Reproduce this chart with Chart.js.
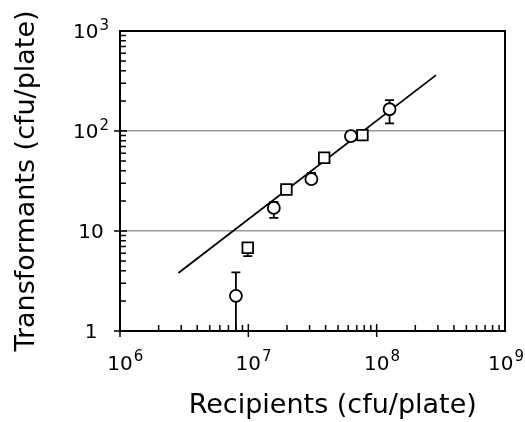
<!DOCTYPE html>
<html>
<head>
<meta charset="utf-8">
<script src="https://cdn.jsdelivr.net/npm/chart.js@4.4.1/dist/chart.umd.min.js"></script>
<style>
  html, body { margin: 0; padding: 0; background: #fff; }
  #wrap { width: 525px; height: 422px; }
</style>
</head>
<body>
<div id="wrap"><canvas id="chart"></canvas></div>
<script>
// open circles, with error bars
const circleX = [8.0e6, 1.58e7, 3.1e7, 6.3e7, 1.26e8];
const circleY = [2.25, 17, 33, 89, 165];
const circleLow = [0.5, 13.5, 33, 89, 119];
const circleHigh = [3.85, 19.5, 38, 89, 204];

// open squares
const squareX = [9.9e6, 1.98e7, 3.9e7, 7.75e7];
const squareY = [6.8, 26, 54, 91];
const squareLow = [5.6, 26, 54, 91];
const squareHigh = [6.8, 26, 54, 91];

// fitted line, end points
const fitX = [2.85e6, 2.9e8];
const fitY = [3.8, 362];

const xTicks = [1e6, 1e7, 1e8, 1e9];
const xTickLabels = [['10', '6'], ['10', '7'], ['10', '8'], ['10', '9']];
const yTicks = [1, 10, 100, 1000];
const yTickLabels = [['1', ''], ['10', ''], ['10', '2'], ['10', '3']];
const gridY = [10, 100];

const FONT = '"DejaVu Sans", sans-serif';

const toPts = (xs, ys) => xs.map((v, i) => ({x: v, y: ys[i]}));

function drawPow(ctx, base, exp, left, baseline, raise) {
  ctx.font = '20px ' + FONT;
  ctx.textAlign = 'left';
  ctx.textBaseline = 'alphabetic';
  ctx.fillText(base, left, baseline);
  const wb = ctx.measureText(base).width;
  if (exp) {
    ctx.font = '15px ' + FONT;
    ctx.fillText(exp, left + wb + 1, baseline - raise);
  }
}

function powWidth(ctx, base, exp) {
  ctx.font = '20px ' + FONT;
  const wb = ctx.measureText(base).width;
  ctx.font = '15px ' + FONT;
  const we = exp ? ctx.measureText(exp).width + 1 : 0;
  return [wb, we];
}

const decor = {
  id: 'decor',
  beforeDatasetsDraw(chart) {
    const {ctx, chartArea: a, scales: {x, y}} = chart;
    ctx.save();
    ctx.beginPath();
    ctx.rect(a.left, a.top, a.right - a.left, a.bottom - a.top);
    ctx.clip();
    ctx.strokeStyle = '#000';
    ctx.lineWidth = 1.8;
    const bars = (xs, lo, hi) => xs.forEach((v, i) => {
      const px = x.getPixelForValue(v);
      const p1 = y.getPixelForValue(lo[i]);
      const p2 = y.getPixelForValue(hi[i]);
      if (Math.abs(p1 - p2) < 0.5) return;
      ctx.beginPath();
      ctx.moveTo(px, p1); ctx.lineTo(px, p2);
      ctx.moveTo(px - 4.5, p1); ctx.lineTo(px + 4.5, p1);
      ctx.moveTo(px - 4.5, p2); ctx.lineTo(px + 4.5, p2);
      ctx.stroke();
    });
    bars(circleX, circleLow, circleHigh);
    bars(squareX, squareLow, squareHigh);
    ctx.restore();
  },
  afterDraw(chart) {
    const {ctx, chartArea: a, scales: {x, y}} = chart;
    ctx.save();
    ctx.strokeStyle = '#000';
    ctx.lineWidth = 2;
    ctx.strokeRect(a.left, a.top, a.right - a.left, a.bottom - a.top);

    // tick marks, pointing inward; the decades cross the axis
    ctx.lineWidth = 1.5;
    ctx.beginPath();
    for (let d = 6; d < 9; d++) {
      for (let k = 1; k < 10; k++) {
        const px = x.getPixelForValue(k * Math.pow(10, d));
        ctx.moveTo(px, a.bottom + (k === 1 ? 6 : 0));
        ctx.lineTo(px, a.bottom - (k === 1 ? 7 : 6));
      }
    }
    for (let d = 0; d < 3; d++) {
      for (let k = 1; k < 10; k++) {
        const py = y.getPixelForValue(k * Math.pow(10, d));
        ctx.moveTo(a.left - (k === 1 ? 6 : 0), py);
        ctx.lineTo(a.left + (k === 1 ? 7 : 6), py);
      }
    }
    ctx.stroke();

    ctx.fillStyle = '#000';
    const W = chart.width;
    xTicks.forEach((v, i) => {
      const [base, exp] = xTickLabels[i];
      const [wb, we] = powWidth(ctx, base, exp);
      const px = x.getPixelForValue(v);
      const left = Math.min(px - wb / 2, W - 1 - wb - we);
      drawPow(ctx, base, exp, left, a.bottom + 39, 9);
    });
    yTicks.forEach((v, i) => {
      const [base, exp] = yTickLabels[i];
      const [wb, we] = powWidth(ctx, base, exp);
      const py = y.getPixelForValue(v);
      drawPow(ctx, base, exp, a.left - 29 - (wb + we) / 2, py + 7, 8);
    });
    ctx.restore();
  }
};

new Chart(document.getElementById('chart'), {
  type: 'scatter',
  data: {
    datasets: [
      {
        label: 'circles',
        data: toPts(circleX, circleY),
        pointStyle: 'circle',
        pointRadius: 6,
        borderColor: '#000',
        backgroundColor: '#fff',
        borderWidth: 1.8,
        order: 0
      },
      {
        label: 'squares',
        data: toPts(squareX, squareY),
        pointStyle: 'rect',
        pointRadius: 7.5,
        borderColor: '#000',
        backgroundColor: '#fff',
        borderWidth: 1.8,
        order: 1
      },
      {
        label: 'fit',
        data: toPts(fitX, fitY),
        showLine: true,
        pointRadius: 0,
        borderColor: '#000',
        borderWidth: 1.8,
        order: 2
      }
    ]
  },
  options: {
    responsive: true,
    maintainAspectRatio: false,
    animation: false,
    events: [],
    layout: {padding: {left: 0, right: 20, top: 31, bottom: 0}},
    plugins: {legend: {display: false}, tooltip: {enabled: false}},
    scales: {
      x: {
        type: 'logarithmic',
        min: 1e6,
        max: 1e9,
        ticks: {display: false},
        grid: {display: false, drawTicks: false},
        border: {display: true, color: '#000', width: 2},
        title: {
          display: true,
          text: '\u2002\u2002\u2002Recipients (cfu/plate)',
          color: '#000',
          font: {family: FONT, size: 27},
          padding: {top: 58.6, bottom: 0}
        }
      },
      y: {
        type: 'logarithmic',
        min: 1,
        max: 1000,
        ticks: {display: false},
        grid: {
          drawTicks: false,
          lineWidth: 1.5,
          color: c => gridY.includes(c.tick.value) ? '#999' : 'rgba(0,0,0,0)'
        },
        border: {display: true, color: '#000', width: 2},
        title: {
          display: true,
          text: 'Transformants (cfu/plate)',
          color: '#000',
          font: {family: FONT, size: 27},
          padding: {top: 10.8, bottom: 76.8}
        }
      }
    }
  },
  plugins: [decor]
});
</script>
</body>
</html>
